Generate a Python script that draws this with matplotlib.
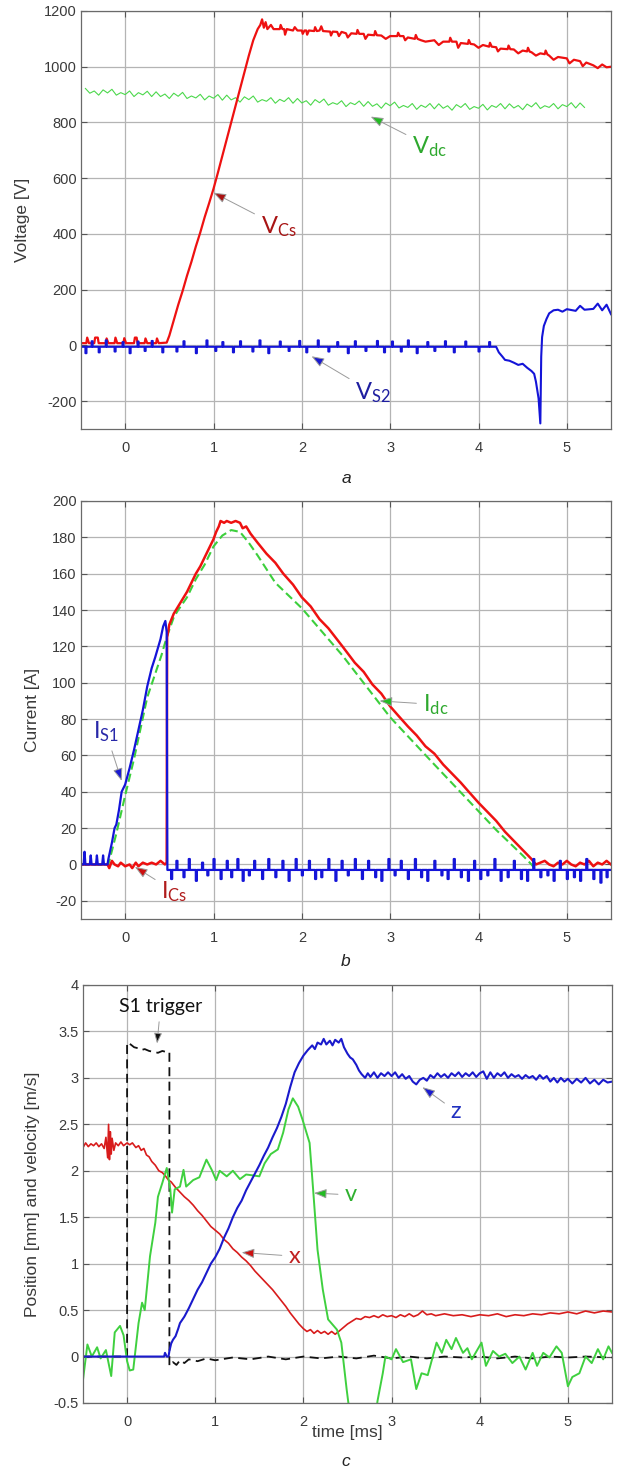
import numpy as np
import matplotlib
matplotlib.use('Agg')
import matplotlib.pyplot as plt
from matplotlib.ticker import FormatStrFormatter

plt.rcParams['font.family'] = ['Liberation Sans', 'DejaVu Sans']

# ---------------- panel a : voltages ----------------
vcs_pts = [(-0.5, 8), (-0.44, 8), (-0.43, 28), (-0.41, 8), (-0.35, 8), (-0.34, 28), (-0.31, 28), (-0.3, 8),
           (-0.22, 8), (-0.21, 25), (-0.19, 8), (-0.12, 8), (-0.11, 28), (-0.09, 8), (-0.02, 8), (-0.01, 26),
           (0.01, 8), (0.1, 8), (0.11, 28), (0.13, 28), (0.14, 8), (0.22, 8), (0.23, 25), (0.25, 8), (0.35, 8),
           (0.36, 25), (0.38, 8), (0.47, 10), (0.5, 35), (0.55, 90), (0.6, 145), (0.65, 195), (0.7, 250),
           (0.75, 300), (0.8, 355), (0.85, 405), (0.9, 460), (0.95, 510), (1.0, 562), (1.05, 620), (1.1, 680),
           (1.15, 740), (1.2, 800), (1.25, 860), (1.3, 920), (1.35, 980), (1.4, 1040), (1.45, 1095),
           (1.5, 1135), (1.53, 1150), (1.55, 1170), (1.57, 1140), (1.59, 1160), (1.61, 1135), (1.65, 1150),
           (1.68, 1135), (1.75, 1135), (1.76, 1150), (1.78, 1135), (1.8, 1135), (1.81, 1115), (1.83, 1135),
           (1.9, 1130), (1.92, 1142), (1.95, 1130), (2.0, 1130), (2.01, 1118), (2.03, 1130), (2.05, 1130),
           (2.06, 1115), (2.08, 1130), (2.14, 1128), (2.15, 1142), (2.17, 1128), (2.2, 1130), (2.22, 1145),
           (2.24, 1128), (2.32, 1126), (2.33, 1112), (2.35, 1126), (2.4, 1125), (2.42, 1110), (2.45, 1125),
           (2.5, 1120), (2.52, 1105), (2.56, 1120), (2.62, 1118), (2.63, 1132), (2.65, 1118), (2.7, 1118),
           (2.72, 1100), (2.75, 1115), (2.82, 1113), (2.83, 1128), (2.85, 1113), (2.9, 1112), (2.95, 1100),
           (3.0, 1110), (3.08, 1110), (3.09, 1122), (3.11, 1110), (3.15, 1110), (3.17, 1095), (3.2, 1105),
           (3.28, 1100), (3.29, 1114), (3.31, 1100), (3.35, 1095), (3.4, 1090), (3.5, 1095), (3.55, 1078),
           (3.6, 1090), (3.67, 1090), (3.68, 1104), (3.7, 1090), (3.75, 1090), (3.77, 1068), (3.8, 1085),
           (3.88, 1082), (3.89, 1096), (3.91, 1082), (3.95, 1080), (4.0, 1068), (4.05, 1078), (4.12, 1072),
           (4.13, 1086), (4.15, 1072), (4.2, 1070), (4.22, 1055), (4.25, 1065), (4.33, 1063), (4.34, 1076),
           (4.36, 1063), (4.4, 1062), (4.45, 1048), (4.5, 1058), (4.55, 1055), (4.56, 1068), (4.58, 1054),
           (4.6, 1052), (4.65, 1040), (4.7, 1048), (4.75, 1045), (4.76, 1058), (4.78, 1044), (4.8, 1040),
           (4.85, 1025), (4.9, 1035), (5.0, 1030), (5.03, 1012), (5.08, 1025), (5.15, 1020), (5.18, 1002),
           (5.22, 1015), (5.3, 1005), (5.35, 995), (5.4, 1008), (5.45, 998), (5.5, 1000)]

vdc_pts = [(-0.45, 922), (-0.4, 905), (-0.35, 913), (-0.3, 898), (-0.25, 917), (-0.2, 906), (-0.15, 919),
           (-0.1, 898), (-0.05, 907), (0.0, 900), (0.05, 913), (0.1, 893), (0.15, 907), (0.2, 899),
           (0.25, 912), (0.3, 893), (0.35, 910), (0.4, 893), (0.45, 902), (0.5, 886), (0.55, 905), (0.6, 894),
           (0.65, 908), (0.7, 886), (0.75, 895), (0.8, 888), (0.85, 901), (0.9, 881), (0.95, 895), (1.0, 887),
           (1.05, 900), (1.1, 880), (1.15, 898), (1.2, 881), (1.25, 889), (1.3, 873), (1.35, 892), (1.4, 882),
           (1.45, 895), (1.5, 873), (1.55, 882), (1.6, 876), (1.65, 889), (1.7, 869), (1.75, 883), (1.8, 875),
           (1.85, 889), (1.9, 869), (1.95, 886), (2.0, 870), (2.05, 878), (2.1, 862), (2.15, 882), (2.2, 871),
           (2.25, 884), (2.3, 862), (2.35, 871), (2.4, 865), (2.45, 878), (2.5, 857), (2.55, 871), (2.6, 864),
           (2.65, 877), (2.7, 858), (2.75, 875), (2.8, 858), (2.85, 867), (2.9, 851), (2.95, 870), (3.0, 860),
           (3.05, 873), (3.1, 852), (3.15, 861), (3.2, 854), (3.25, 868), (3.3, 847), (3.35, 862), (3.4, 854),
           (3.45, 868), (3.5, 849), (3.55, 867), (3.6, 851), (3.65, 860), (3.7, 844), (3.75, 864), (3.8, 854),
           (3.85, 868), (3.9, 847), (3.95, 857), (4.0, 851), (4.05, 865), (4.1, 845), (4.15, 861), (4.2, 854),
           (4.25, 868), (4.3, 849), (4.35, 867), (4.4, 852), (4.45, 861), (4.5, 846), (4.55, 866), (4.6, 856),
           (4.65, 871), (4.7, 850), (4.75, 860), (4.8, 854), (4.85, 868), (4.9, 849), (4.95, 864), (5.0, 857),
           (5.05, 871), (5.1, 852), (5.15, 870), (5.2, 854)]

# V_S2 : flat part (base + spikes) then the turn-off transient
vs2_base = -5
vs2_spk_t = [-0.45, -0.38, -0.3, -0.22, -0.12, -0.03, 0.05, 0.14, 0.22, 0.3, 0.42, 0.58, 0.66, 0.8, 0.92, 1.02,
             1.1, 1.22, 1.3, 1.44, 1.52, 1.62, 1.75, 1.85, 1.97, 2.05, 2.18, 2.3, 2.4, 2.52, 2.6, 2.72, 2.85,
             2.93, 3.02, 3.12, 3.2, 3.3, 3.42, 3.5, 3.62, 3.72, 3.85, 4.0, 4.12]
vs2_spk_v = [-28, 15, -25, 18, -22, 12, -28, 14, -20, 16, -25, -22, 15, -28, 18, -20, 12, -25, 15, -22, 18,
             -28, 14, -20, 16, -25, 18, -22, 12, -28, 15, -20, 16, -25, 14, -22, 18, -28, 12, -20, 15, -25,
             14, -22, 12]
vs2_tail = [(4.2, -5), (4.23, -25), (4.27, -40), (4.3, -52), (4.35, -55), (4.4, -62), (4.45, -70), (4.5, -66),
            (4.55, -80), (4.6, -92), (4.63, -102), (4.65, -130), (4.68, -190), (4.7, -280), (4.71, -40),
            (4.72, 30), (4.74, 70), (4.77, 95), (4.8, 115), (4.85, 126), (4.9, 128), (4.95, 121), (5.0, 130),
            (5.05, 127), (5.1, 124), (5.15, 142), (5.2, 128), (5.3, 131), (5.35, 150), (5.4, 126),
            (5.45, 146), (5.5, 112)]

# ---------------- panel b : currents ----------------
is1_pts = [(-0.5, 0), (-0.47, 0), (-0.46, 7), (-0.45, 0), (-0.4, 0), (-0.39, 5), (-0.38, 0), (-0.33, 0),
           (-0.32, 5), (-0.31, 0), (-0.26, 0), (-0.25, 5), (-0.24, 0), (-0.2, 0), (-0.19, 3), (-0.15, 12),
           (-0.12, 20), (-0.1, 22), (-0.07, 30), (-0.04, 40), (0.0, 44), (0.05, 53), (0.1, 63), (0.15, 74),
           (0.2, 85), (0.25, 98), (0.3, 108), (0.34, 114), (0.37, 119), (0.4, 124), (0.43, 131), (0.455, 134),
           (0.47, 128), (0.478, -3)]
is1_base = -3
is1_spk_t = [0.52, 0.58, 0.66, 0.72, 0.8, 0.87, 0.93, 1.0, 1.08, 1.15, 1.2, 1.27, 1.33, 1.4, 1.46, 1.55, 1.62,
             1.7, 1.78, 1.85, 1.93, 2.0, 2.08, 2.15, 2.22, 2.3, 2.38, 2.45, 2.52, 2.6, 2.68, 2.75, 2.83, 2.9,
             2.98, 3.05, 3.12, 3.2, 3.28, 3.35, 3.42, 3.5, 3.58, 3.65, 3.72, 3.8, 3.88, 3.95, 4.02, 4.1, 4.18,
             4.25, 4.33, 4.4, 4.48, 4.55, 4.62, 4.7, 4.78, 4.85, 4.92, 5.0, 5.08, 5.15, 5.22, 5.3, 5.38, 5.45]
is1_spk_v = [-8, 2, -7, 3, -9, 1, -6, 3, -8, 2, -7, 3, -9, -6, 2, -8, 3, -7, 2, -9, 3, -6, 2, -8, -7, 3, -9,
             2, -6, 3, -8, 2, -7, -9, 3, -6, 2, -8, 3, -7, -9, 2, -6, -8, 3, -7, -9, 2, -8, -6, 3, -9, -7, 2,
             -8, -9, 3, -7, -6, -9, 2, -8, -7, -9, 3, -8, -10, -7]

ics_pts = [(-0.5, 0), (-0.2, 0), (-0.18, -2), (-0.15, 2), (-0.12, 0), (-0.08, -1), (-0.05, 1), (0.0, -1),
           (0.05, 0), (0.08, -2), (0.12, 1), (0.15, -1), (0.2, 1), (0.25, 0), (0.3, 1), (0.35, 0), (0.4, 2),
           (0.45, 0), (0.47, 1), (0.475, 125), (0.5, 132), (0.55, 138), (0.6, 142), (0.65, 146), (0.7, 150),
           (0.75, 155), (0.8, 160), (0.85, 164), (0.9, 169), (0.95, 174), (1.0, 179), (1.03, 183),
           (1.06, 186), (1.08, 189), (1.12, 188), (1.15, 189), (1.2, 188), (1.25, 189), (1.3, 188),
           (1.33, 185), (1.37, 186), (1.42, 182), (1.5, 177), (1.6, 171), (1.7, 166), (1.79, 160),
           (1.9, 154), (2.0, 147), (2.1, 142), (2.2, 135), (2.3, 130), (2.46, 120), (2.6, 111), (2.7, 106),
           (2.8, 99), (2.9, 94), (3.0, 87), (3.09, 82), (3.2, 76), (3.3, 71), (3.4, 65), (3.5, 61),
           (3.6, 55), (3.7, 50), (3.8, 45), (3.89, 40), (4.0, 34), (4.1, 29), (4.2, 24), (4.3, 18),
           (4.4, 13), (4.5, 8), (4.6, 3), (4.65, 0), (4.75, 2), (4.8, 0), (4.85, -1), (4.9, 1), (4.95, 0),
           (5.0, 2), (5.05, 0), (5.1, -1), (5.15, 1), (5.2, 0), (5.25, 2), (5.3, -1), (5.35, 1), (5.4, 0),
           (5.45, 2), (5.5, 0)]

idc_pts = [(-0.5, 0), (-0.19, 0), (-0.1, 17), (0.0, 38), (0.1, 58), (0.25, 92), (0.41, 115), (0.47, 125),
           (0.55, 136), (0.6, 140), (0.7, 147), (0.8, 157), (0.9, 165), (1.0, 175), (1.1, 181), (1.2, 184),
           (1.3, 183), (1.4, 177), (1.5, 170), (1.7, 155), (2.0, 141), (2.46, 115), (3.0, 81), (3.5, 55),
           (3.89, 35), (4.2, 19), (4.5, 5), (4.6, 0), (4.65, -3), (5.5, -3)]

# ---------------- panel c : position / velocity ----------------
x_pts = [(-0.5, 2.25), (-0.47, 2.3), (-0.44, 2.26), (-0.41, 2.29), (-0.38, 2.27), (-0.35, 2.3), (-0.32, 2.26),
         (-0.29, 2.29), (-0.26, 2.24), (-0.24, 2.36), (-0.22, 2.14), (-0.21, 2.5), (-0.2, 2.12), (-0.19, 2.42),
         (-0.18, 2.18), (-0.17, 2.35), (-0.15, 2.22), (-0.13, 2.3), (-0.1, 2.27), (-0.07, 2.31), (-0.04, 2.27),
         (0.0, 2.3), (0.03, 2.28), (0.06, 2.3), (0.1, 2.25), (0.13, 2.27), (0.16, 2.22), (0.19, 2.24),
         (0.22, 2.17), (0.25, 2.15), (0.28, 2.1), (0.32, 2.06), (0.36, 2.0), (0.4, 1.98), (0.43, 1.95),
         (0.47, 1.9), (0.5, 1.88), (0.55, 1.82), (0.6, 1.77), (0.65, 1.72), (0.7, 1.68), (0.75, 1.63),
         (0.8, 1.57), (0.85, 1.52), (0.9, 1.46), (0.95, 1.4), (1.0, 1.36), (1.05, 1.32), (1.1, 1.26),
         (1.15, 1.22), (1.2, 1.16), (1.25, 1.12), (1.3, 1.07), (1.35, 1.03), (1.4, 0.98), (1.45, 0.92),
         (1.5, 0.87), (1.55, 0.82), (1.6, 0.77), (1.65, 0.72), (1.7, 0.66), (1.75, 0.6), (1.8, 0.54),
         (1.85, 0.47), (1.9, 0.41), (1.95, 0.35), (2.0, 0.3), (2.04, 0.27), (2.08, 0.29), (2.12, 0.25),
         (2.16, 0.28), (2.2, 0.25), (2.24, 0.27), (2.28, 0.24), (2.32, 0.27), (2.36, 0.24), (2.4, 0.27),
         (2.45, 0.31), (2.5, 0.35), (2.55, 0.38), (2.6, 0.41), (2.65, 0.4), (2.7, 0.43), (2.75, 0.42),
         (2.8, 0.44), (2.85, 0.42), (2.9, 0.45), (2.95, 0.43), (3.0, 0.44), (3.05, 0.42), (3.1, 0.45),
         (3.15, 0.43), (3.2, 0.46), (3.25, 0.43), (3.3, 0.45), (3.35, 0.49), (3.4, 0.45), (3.45, 0.46),
         (3.5, 0.44), (3.6, 0.46), (3.7, 0.44), (3.8, 0.45), (3.9, 0.43), (4.0, 0.45), (4.1, 0.44),
         (4.2, 0.46), (4.3, 0.43), (4.4, 0.45), (4.5, 0.44), (4.6, 0.46), (4.7, 0.45), (4.8, 0.47),
         (4.9, 0.46), (5.0, 0.48), (5.1, 0.46), (5.2, 0.49), (5.3, 0.47), (5.4, 0.49), (5.5, 0.48)]

z_pts = [(-0.5, 0.0), (0.42, 0.0), (0.43, 0.04), (0.45, 0.0), (0.47, 0.0), (0.48, 0.06), (0.5, 0.14),
         (0.52, 0.18), (0.55, 0.22), (0.58, 0.3), (0.6, 0.36), (0.65, 0.43), (0.7, 0.52), (0.75, 0.62),
         (0.8, 0.72), (0.85, 0.8), (0.9, 0.9), (0.95, 1.0), (1.0, 1.07), (1.05, 1.16), (1.1, 1.28),
         (1.15, 1.38), (1.2, 1.5), (1.25, 1.6), (1.3, 1.68), (1.35, 1.79), (1.4, 1.88), (1.45, 1.97),
         (1.5, 2.06), (1.55, 2.16), (1.6, 2.25), (1.65, 2.36), (1.7, 2.46), (1.75, 2.58), (1.8, 2.72),
         (1.85, 2.9), (1.9, 3.06), (1.95, 3.16), (2.0, 3.24), (2.05, 3.3), (2.1, 3.35), (2.13, 3.31),
         (2.16, 3.38), (2.2, 3.36), (2.23, 3.42), (2.26, 3.36), (2.3, 3.4), (2.33, 3.35), (2.36, 3.41),
         (2.4, 3.38), (2.43, 3.42), (2.46, 3.33), (2.5, 3.26), (2.53, 3.22), (2.56, 3.2), (2.6, 3.14),
         (2.63, 3.08), (2.66, 3.04), (2.7, 3.0), (2.73, 3.05), (2.76, 3.01), (2.8, 3.06), (2.84, 3.0),
         (2.88, 3.05), (2.92, 3.02), (2.96, 3.06), (3.0, 3.02), (3.04, 3.06), (3.08, 3.0), (3.12, 3.04),
         (3.16, 2.99), (3.2, 3.02), (3.24, 2.96), (3.28, 2.93), (3.32, 2.98), (3.36, 3.0), (3.4, 2.97),
         (3.44, 3.03), (3.48, 3.0), (3.52, 3.05), (3.56, 3.01), (3.6, 3.04), (3.64, 3.0), (3.68, 3.05),
         (3.72, 3.02), (3.76, 3.06), (3.8, 3.01), (3.84, 3.05), (3.88, 3.02), (3.92, 3.06), (3.96, 3.01),
         (4.0, 3.05), (4.04, 3.07), (4.08, 2.99), (4.12, 3.06), (4.16, 3.0), (4.2, 3.05), (4.24, 3.02),
         (4.28, 3.06), (4.32, 3.0), (4.36, 3.04), (4.4, 3.01), (4.44, 3.03), (4.48, 2.99), (4.52, 3.03),
         (4.56, 3.0), (4.6, 3.02), (4.64, 2.98), (4.68, 3.03), (4.72, 2.99), (4.76, 3.02), (4.8, 2.96),
         (4.84, 3.0), (4.88, 2.95), (4.92, 3.0), (4.96, 2.96), (5.0, 2.99), (5.05, 2.94), (5.1, 2.99),
         (5.15, 2.95), (5.2, 3.0), (5.25, 2.94), (5.3, 2.98), (5.35, 2.93), (5.4, 2.98), (5.45, 2.95),
         (5.5, 2.96)]

v_pts = [(-0.5, -0.25), (-0.45, 0.13), (-0.4, 0.0), (-0.34, 0.1), (-0.3, -0.02), (-0.24, 0.07), (-0.18, -0.21),
         (-0.14, 0.26), (-0.08, 0.33), (-0.04, 0.23), (0.0, -0.05), (0.03, -0.15), (0.07, -0.14), (0.13, 0.36),
         (0.17, 0.58), (0.2, 0.5), (0.26, 1.08), (0.32, 1.44), (0.35, 1.72), (0.4, 1.87), (0.45, 2.03),
         (0.49, 1.8), (0.51, 1.55), (0.54, 1.8), (0.6, 1.83), (0.64, 2.01), (0.67, 1.83), (0.75, 1.9),
         (0.82, 1.93), (0.9, 2.12), (0.96, 2.01), (1.01, 1.9), (1.05, 2.0), (1.13, 1.94), (1.2, 2.0),
         (1.28, 1.91), (1.35, 1.96), (1.43, 1.95), (1.5, 1.94), (1.56, 2.08), (1.63, 2.18), (1.71, 2.23),
         (1.77, 2.41), (1.83, 2.66), (1.88, 2.78), (1.94, 2.69), (1.99, 2.55), (2.07, 2.3), (2.11, 1.8),
         (2.16, 1.15), (2.22, 0.72), (2.28, 0.4), (2.38, 0.29), (2.43, 0.15), (2.49, -0.35), (2.55, -0.8),
         (2.65, -1.2), (2.75, -1.2), (2.84, -0.48), (2.9, -0.18), (2.93, 0.0), (3.0, -0.03), (3.05, 0.08),
         (3.13, -0.06), (3.22, -0.03), (3.28, -0.35), (3.34, -0.18), (3.41, -0.2), (3.51, 0.15), (3.57, 0.04),
         (3.62, 0.18), (3.68, 0.08), (3.73, 0.2), (3.81, 0.04), (3.86, 0.09), (3.91, -0.03), (4.02, 0.15),
         (4.07, -0.1), (4.15, 0.06), (4.22, 0.0), (4.29, 0.03), (4.37, -0.07), (4.45, 0.0), (4.52, -0.14),
         (4.6, 0.04), (4.65, -0.1), (4.72, 0.04), (4.79, -0.01), (4.87, 0.11), (4.93, 0.04), (5.0, -0.32),
         (5.05, -0.22), (5.13, -0.18), (5.2, 0.0), (5.27, -0.07), (5.34, 0.08), (5.4, -0.03), (5.46, 0.11),
         (5.5, 0.04)]

trig_pts = [(-0.5, 0.0), (0.0, 0.0), (0.0, 3.38), (0.04, 3.36), (0.08, 3.33), (0.12, 3.32), (0.16, 3.3),
            (0.2, 3.31), (0.25, 3.29), (0.3, 3.28), (0.35, 3.27), (0.4, 3.29), (0.44, 3.28), (0.48, 3.28),
            (0.48, -0.1), (0.52, -0.06), (0.56, -0.09), (0.6, -0.04), (0.65, -0.07), (0.7, -0.03), (0.8, -0.05),
            (0.9, -0.02), (1.0, -0.04), (1.2, -0.01), (1.4, -0.03), (1.6, 0.0), (1.8, -0.03), (2.0, 0.0),
            (2.2, -0.02), (2.4, 0.0), (2.6, -0.02), (2.8, 0.01), (3.0, -0.02), (3.2, 0.0), (3.4, -0.02),
            (3.6, 0.0), (3.8, -0.01), (4.0, 0.0), (4.2, -0.02), (4.4, 0.0), (4.6, -0.02), (4.8, 0.0),
            (5.0, -0.01), (5.2, 0.0), (5.5, -0.01)]


def unzip(pts):
    a = np.array(pts, dtype=float)
    return a[:, 0], a[:, 1]


def spiky(t0, t1, base, spk_t, spk_v, w=0.012):
    tt, vv = [t0], [base]
    for s, v in zip(spk_t, spk_v):
        tt += [s, s, s + w, s + w]
        vv += [base, v, v, base]
    tt.append(t1)
    vv.append(base)
    return np.array(tt), np.array(vv)


RED = '#ee1111'
BLUE = '#1414d8'
GREEN = '#3ccf3c'
GRID = '#b4b4b4'
TXT = '#3a3a3a'


def style(ax, yticks, ylim):
    ax.set_xlim(-0.5, 5.5)
    ax.set_ylim(*ylim)
    ax.set_xticks(range(0, 6))
    ax.set_yticks(yticks)
    ax.yaxis.set_major_formatter(FormatStrFormatter('%g'))
    ax.grid(True, color=GRID, lw=0.9)
    ax.set_axisbelow(True)
    ax.tick_params(direction='in', top=True, right=True, length=4, width=0.8,
                   colors='#555555', labelcolor=TXT, labelsize=10.5)
    ax.tick_params(axis='x', pad=9)
    ax.tick_params(axis='y', pad=3)
    for s in ax.spines.values():
        s.set_color('#6a6a6a')
        s.set_linewidth(0.9)


def note(ax, s, xy, xytext, col, headcol, size=17):
    ax.annotate(s, xy=xy, xytext=xytext, color=col, fontsize=size, family=['Lato', 'DejaVu Sans'],
                ha='center', va='center',
                arrowprops=dict(arrowstyle='-|>,head_length=0.45,head_width=0.17',
                                fc=headcol, ec='#9a9a9a', lw=0.7, shrinkA=3, shrinkB=0))


fig = plt.figure(figsize=(6.19, 14.70), dpi=100)

# ---- a ----
ax1 = fig.add_axes([81 / 619, 1 - 429 / 1470, 530 / 619, 418 / 1470])
t, v = unzip(vdc_pts)
ax1.plot(t, v, color='#4cd84c', lw=0.8)
t, v = unzip(vcs_pts)
ax1.plot(t, v, color=RED, lw=1.6)
t, v = spiky(-0.5, 4.2, vs2_base, vs2_spk_t, vs2_spk_v)
t2, v2 = unzip(vs2_tail)
ax1.plot(np.concatenate([t, t2]), np.concatenate([v, v2]), color=BLUE, lw=1.5)
style(ax1, range(-200, 1201, 200), (-300, 1200))
ax1.set_ylabel('Voltage [V]', fontsize=12.5, color=TXT)
ax1.yaxis.set_label_coords(-0.097, 0.5)
note(ax1, r'$\mathregular{V_{dc}}$', (2.78, 821), (3.45, 713), '#2ea82e', '#22bb22')
note(ax1, r'$\mathregular{V_{Cs}}$', (1.0, 548), (1.74, 427), '#a81414', '#aa1111')
note(ax1, r'$\mathregular{V_{S2}}$', (2.11, -39), (2.81, -171), '#1e1ea0', '#1a1ad0')
fig.text(346 / 619, 1 - 478 / 1470, 'a', style='italic', fontsize=12.5, color='#222222',
         ha='center', va='center')

# ---- b ----
ax2 = fig.add_axes([81 / 619, 1 - 919 / 1470, 530 / 619, 418 / 1470])
t, v = unzip(idc_pts)
ax2.plot(t, v, color=GREEN, lw=1.5, ls=(0, (4, 2)))
t, v = unzip(ics_pts)
ax2.plot(t, v, color=RED, lw=1.8)
t, v = unzip(is1_pts)
tb, vb = spiky(0.478, 5.5, is1_base, is1_spk_t, is1_spk_v)
ax2.plot(np.concatenate([t, tb]), np.concatenate([v, vb]), color=BLUE, lw=1.6)
style(ax2, range(-20, 201, 20), (-30, 200))
ax2.set_ylabel('Current [A]', fontsize=12.5, color=TXT)
ax2.yaxis.set_label_coords(-0.078, 0.5)
note(ax2, r'$\mathregular{I_{dc}}$', (2.88, 90), (3.52, 88), '#2ea82e', '#22bb22')
note(ax2, r'$\mathregular{I_{S1}}$', (-0.04, 46), (-0.22, 73), '#2828a8', '#1a1ad0')
note(ax2, r'$\mathregular{I_{Cs}}$', (0.11, -1.3), (0.56, -15), '#b01c1c', '#cc1111')
fig.text(346 / 619, 1 - 962 / 1470, 'b', style='italic', fontsize=12.5, color='#222222',
         ha='center', va='center')

# ---- c ----
ax3 = fig.add_axes([83 / 619, 1 - 1403 / 1470, 529 / 619, 418 / 1470])
t, v = unzip(trig_pts)
ax3.plot(t, v, color='#111111', lw=1.3, ls=(0, (5, 3)))
t, v = unzip(x_pts)
ax3.plot(t, v, color='#d81c1c', lw=1.2)
t, v = unzip(v_pts)
ax3.plot(t, v, color='#3fd03f', lw=1.4)
t, v = unzip(z_pts)
ax3.plot(t, v, color='#1a1acc', lw=1.5)
style(ax3, np.arange(-0.5, 4.01, 0.5), (-0.5, 4))
ax3.set_ylabel('Position [mm] and velocity [m/s]', fontsize=12.5, color=TXT)
ax3.yaxis.set_label_coords(-0.081, 0.5)
ax3.set_xlabel('time [ms]', fontsize=12.5, color=TXT)
ax3.xaxis.set_label_coords(0.5, -0.052)
note(ax3, 'S1 trigger', (0.34, 3.37), (0.38, 3.77), '#111111', '#111111', size=14)
note(ax3, 'z', (3.35, 2.9), (3.73, 2.64), '#2030c0', '#1a1ad0')
note(ax3, 'v', (2.12, 1.76), (2.54, 1.74), '#30b030', '#22bb22')
note(ax3, 'x', (1.3, 1.12), (1.9, 1.08), '#c02020', '#cc1111')
fig.text(346 / 619, 1 - 1462 / 1470, 'c', style='italic', fontsize=12.5, color='#222222',
         ha='center', va='center')

fig.savefig('out.png', dpi=100)
